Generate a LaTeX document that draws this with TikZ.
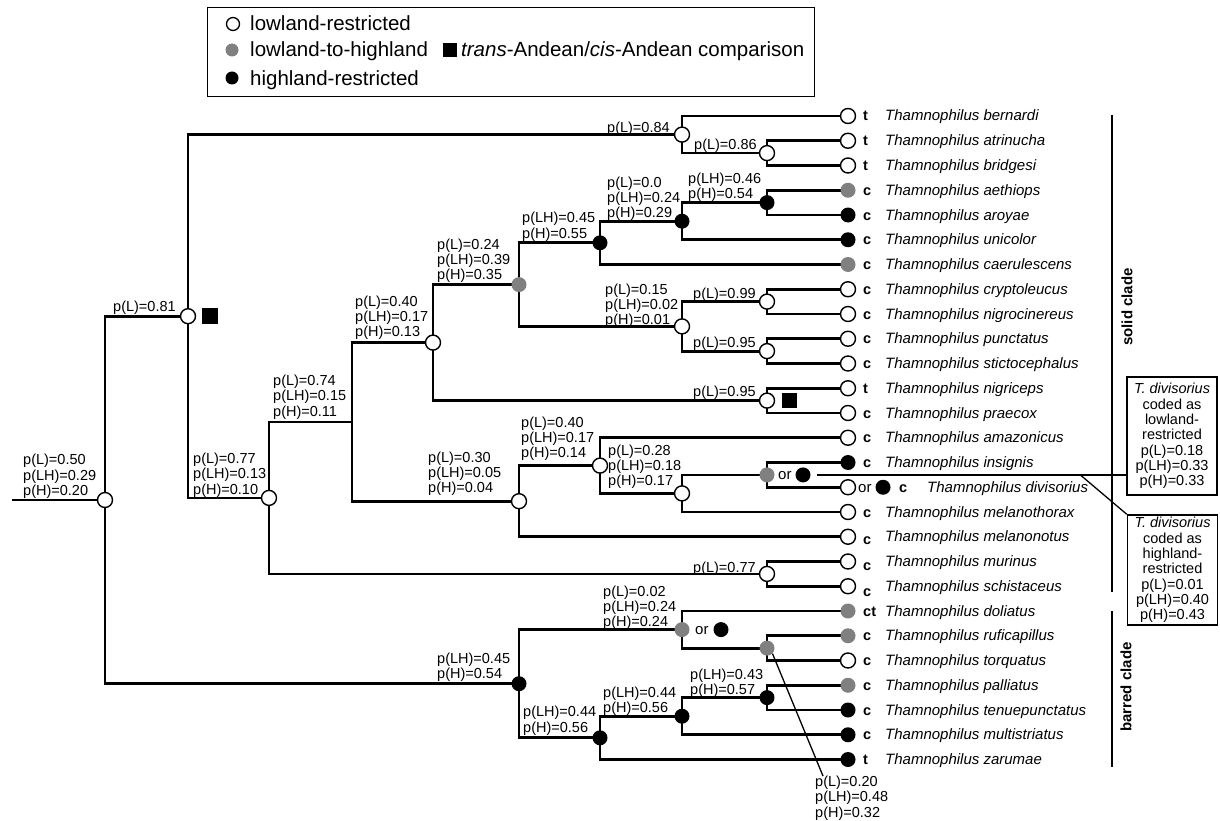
\documentclass[tikz,border=0pt]{standalone}
\usepackage{fontspec}
\setmainfont{Liberation Sans}
\usetikzlibrary{backgrounds}
\definecolor{midgrey}{gray}{0.5}
\newcommand\plabfont{\fontsize{14.5}{15.2}\selectfont}
\newcommand\namefont{\fontsize{15}{18}\selectfont\itshape}
\begin{document}
\begin{tikzpicture}[x=1pt,y=-1pt,
  wn/.style={circle,draw,fill=white,line width=1.4pt,minimum size=15pt,inner sep=0pt},
  gn/.style={circle,fill=midgrey,minimum size=15pt,inner sep=0pt},
  bn/.style={circle,fill=black,minimum size=15pt,inner sep=0pt},
  sqm/.style={fill=black,minimum size=15pt,inner sep=0pt},
  plab/.style={font=\plabfont,align=left,inner sep=0pt,anchor=south west},
  tipl/.style={font=\fontsize{14.5}{15}\selectfont\bfseries,inner sep=0pt,anchor=base west},
  tname/.style={font=\namefont,inner sep=0pt,anchor=base west},
  ortxt/.style={font=\fontsize{15}{15}\selectfont,inner sep=0pt,anchor=base west},
  branch/.style={line width=2.8pt},
  ptr/.style={line width=1.3pt},
  infobox/.style={draw,line width=1.4pt,inner sep=0pt,align=center,font=\fontsize{14.5}{15.3}\selectfont,minimum width=90pt},
  cladelab/.style={font=\fontsize{15}{15}\selectfont\bfseries,rotate=90,inner sep=0pt},
  legtxt/.style={font=\fontsize{20.5}{22}\selectfont,inner sep=0pt,anchor=base west},
]
\useasboundingbox (0,0) rectangle (1220,821);

% ---------- legend ----------
\node[draw,line width=1.3pt,minimum width=607pt,minimum height=89pt,anchor=north west,inner sep=0pt] (legend) at (207,7) {};
\node[circle,draw,fill=white,line width=1.3pt,minimum size=13pt,inner sep=0pt] (lgw) at (233,24) {};
\node[legtxt] (lgwt) at (250,31) {lowland-restricted};
\node[circle,fill=midgrey,minimum size=13pt,inner sep=0pt] (lgg) at (232,50) {};
\node[legtxt] (lggt) at (250,57) {lowland-to-highland};
\node[fill=black,minimum size=14pt,inner sep=0pt] (lgs) at (450,50) {};
\node[legtxt] (lgst) at (461,57) {\textit{trans}-Andean/\textit{cis}-Andean comparison};
\node[circle,fill=black,minimum size=13pt,inner sep=0pt] (lgb) at (232,78) {};
\node[legtxt] (lgbt) at (250,86) {highland-restricted};

% ---------- tips ----------
\foreach \i/\sp/\lt/\st/\dy in {0/bernardi/t/wn/0,1/atrinucha/t/wn/0,2/bridgesi/t/wn/0,
  3/aethiops/c/gn/0,4/aroyae/c/bn/0,5/unicolor/c/bn/0,6/caerulescens/c/gn/0,
  7/cryptoleucus/c/wn/0,8/nigrocinereus/c/wn/0,9/punctatus/c/wn/0,10/stictocephalus/c/wn/0,
  11/nigriceps/t/wn/0,12/praecox/c/wn/0,13/amazonicus/c/wn/0,14/insignis/c/bn/0,
  16/melanothorax/c/wn/0,17/melanonotus/c/wn/3,18/murinus/c/wn/4,19/schistaceus/c/wn/5,
  20/doliatus/ct/gn/0,21/ruficapillus/c/gn/0,22/torquatus/c/wn/0,23/palliatus/c/gn/0,
  24/tenuepunctatus/c/bn/0,25/multistriatus/c/bn/0,26/zarumae/t/bn/0}{
  \pgfmathsetmacro\yy{116+24.75*\i}
  \node[\st] (t\i) at (848,\yy) {};
  \node[tipl] (lt\i) at (863,\yy+5+\dy) {\lt};
  \node[tname] (nm\i) at (885,\yy+5) {Thamnophilus \sp};
}
% divisorius
\pgfmathsetmacro\yd{116+24.75*15}
\node[wn] (t15) at (848,\yd) {};
\node[ortxt] (or15) at (858,\yd+5) {or};
\node[bn] (bt15) at (883,\yd) {};
\node[tipl] (lt15) at (899,\yd+5) {c};
\node[tname] (nm15) at (927,\yd+5) {Thamnophilus divisorius};

% ---------- internal nodes ----------
\coordinate (rs) at (12,500);
\node[wn] (root) at (105,500) {};
\node[wn] (A) at (188,316.2) {};
\node[wn] (B) at (269,497.9) {};
\coordinate (C) at (352,421.9);
\node[wn] (D) at (433,342.6) {};
\node[gn] (E) at (519,284.6) {};
\node[bn] (F) at (600,242.8) {};
\node[bn] (G) at (682,221.2) {};
\node[bn] (H) at (767,202.6) {};
\node[wn] (N2) at (682,134.6) {};
\node[wn] (N1) at (767,153.1) {};
\node[wn] (I) at (682,326.4) {};
\node[wn] (I1) at (767,301.6) {};
\node[wn] (I2) at (767,351.1) {};
\node[wn] (J) at (767,400.6) {};
\node[wn] (K4) at (519,501.2) {};
\node[wn] (K3) at (600,465.6) {};
\node[wn] (K2) at (682,493.4) {};
\node[gn] (K1) at (767,474.9) {};
\node[wn] (L) at (767,573.9) {};
\node[bn] (Q) at (519,683.7) {};
\node[bn] (P3) at (600,737.8) {};
\node[bn] (P2) at (682,716.2) {};
\node[bn] (P1) at (767,697.6) {};
\node[gn] (M) at (682,629.6) {};
\node[gn] (M1) at (767,648.1) {};

% extra markers
\node[sqm,minimum size=16pt] (sqA) at (210,316.2) {};
\node[sqm] (sqJ) at (789,400.6) {};
\node[ortxt] (orK1) at (778,479.9) {or};
\node[bn] (bK1) at (803,474.9) {};
\node[ortxt] (orM) at (695,634.6) {or};
\node[bn] (bM) at (721,629.6) {};

% ---------- branches ----------
\begin{scope}[on background layer]
  \draw[branch] (root.center) -- (rs);
  \foreach \p/\c in {root/A,root/Q,A/N2,A/B,N2/t0,N2/N1,N1/t1,N1/t2,B/C,B/L,C/D,C/K4,
    D/E,D/J,E/F,E/I,F/G,F/t6,G/H,G/t5,H/t3,H/t4,I/I1,I/I2,I1/t7,I1/t8,I2/t9,I2/t10,
    J/t11,J/t12,K4/K3,K4/t17,K3/t13,K3/K2,K2/K1,K2/t16,K1/t14,K1/t15,L/t18,L/t19,
    Q/M,Q/P3,M/t20,M/M1,M1/t21,M1/t22,P3/P2,P3/t26,P2/P1,P2/t25,P1/t23,P1/t24}
    \draw[branch] (\p.center) |- (\c.center);
\end{scope}

% ---------- probability labels ----------
\node[plab] (lroot) at (23,498.5) {p(L)=0.50\\p(LH)=0.29\\p(H)=0.20};
\node[plab] (lA) at (113,314.7) {p(L)=0.81};
\node[plab] (lB) at (193,497.4) {p(L)=0.77\\p(LH)=0.13\\p(H)=0.10};
\node[plab] (lC) at (273,419.4) {p(L)=0.74\\p(LH)=0.15\\p(H)=0.11};
\node[plab] (lD) at (355,340) {p(L)=0.40\\p(LH)=0.17\\p(H)=0.13};
\node[plab] (lE) at (437,283) {p(L)=0.24\\p(LH)=0.39\\p(H)=0.35};
\node[plab] (lF) at (522,241.3) {p(LH)=0.45\\p(H)=0.55};
\node[plab] (lG) at (607,220.7) {p(L)=0.0\\p(LH)=0.24\\p(H)=0.29};
\node[plab] (lH) at (688,202) {p(LH)=0.46\\p(H)=0.54};
\node[plab] (lN2) at (607,136) {p(L)=0.84};
\node[plab] (lN1) at (694,152.6) {p(L)=0.86};
\node[plab] (lI) at (605,327.9) {p(L)=0.15\\p(LH)=0.02\\p(H)=0.01};
\node[plab] (lI1) at (693,302) {p(L)=0.99};
\node[plab] (lI2) at (693,350.6) {p(L)=0.95};
\node[plab] (lJ) at (693,400) {p(L)=0.95};
\node[plab] (lK4) at (428,495.7) {p(L)=0.30\\p(LH)=0.05\\p(H)=0.04};
\node[plab] (lK3) at (521,461) {p(L)=0.40\\p(LH)=0.17\\p(H)=0.14};
\node[plab] (lK2) at (608,489) {p(L)=0.28\\p(LH)=0.18\\p(H)=0.17};
\node[plab] (lL) at (693,575.4) {p(L)=0.77};
\node[plab] (lQ) at (437,682.2) {p(LH)=0.45\\p(H)=0.54};
\node[plab] (lP3) at (523,735.3) {p(LH)=0.44\\p(H)=0.56};
\node[plab] (lP2) at (603,715.7) {p(LH)=0.44\\p(H)=0.56};
\node[plab] (lP1) at (690,698) {p(LH)=0.43\\p(H)=0.57};
\node[plab] (lM) at (603,630) {p(L)=0.02\\p(LH)=0.24\\p(H)=0.24};
\node[plab,anchor=north west] (M1lab) at (815,776) {p(L)=0.20\\p(LH)=0.48\\p(H)=0.32};

% ---------- clade bars ----------
\coordinate (s1) at (1112,115);
\coordinate (s2) at (1112,592);
\coordinate (b1) at (1112,611);
\coordinate (b2) at (1112,767);
\draw[line width=2pt] (s1) -- (s2);
\draw[line width=2pt] (b1) -- (b2);
\node[cladelab] (solidlab) at (1127,307) {solid clade};
\node[cladelab] (barredlab) at (1126,687) {barred clade};

% ---------- info boxes ----------
\node[infobox,minimum height=118pt] (box1) at (1172,436)
  {\textit{T. divisorius}\\coded as\\lowland-\\restricted\\p(L)=0.18\\p(LH)=0.33\\p(H)=0.33};
\node[infobox,minimum height=110pt] (box2) at (1172.5,570)
  {\textit{T. divisorius}\\coded as\\highland-\\restricted\\p(L)=0.01\\p(LH)=0.40\\p(H)=0.43};

% ---------- pointers ----------
\draw[ptr,shorten <=6pt] (bK1.east) -- (bK1.east -| box1.west);
\coordinate (dgs) at (1081,475.5);
\draw[ptr] (dgs) -- (box2.north west);
\draw[ptr] (M1.south east) -- ([xshift=8pt]M1lab.north west);
\end{tikzpicture}
\end{document}
